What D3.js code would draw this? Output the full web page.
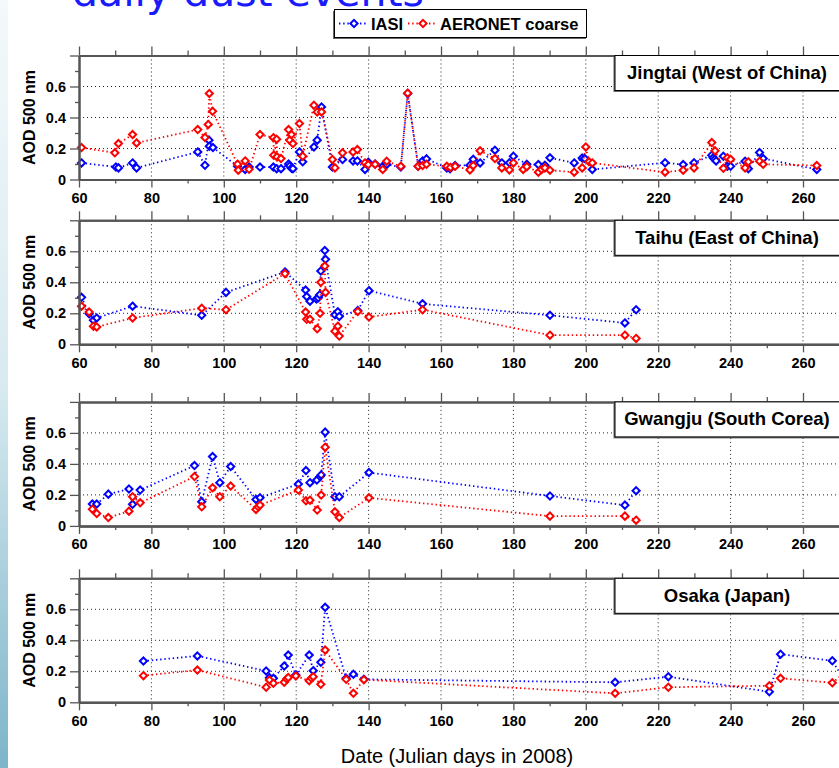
<!DOCTYPE html>
<html><head><meta charset="utf-8">
<script src="https://cdn.jsdelivr.net/npm/d3@7"></script>
<style>
html,body{margin:0;padding:0;background:#fff;}
svg{display:block;font-family:"Liberation Sans",Arial,sans-serif;}
</style>
</head><body>
<svg id="chart" width="839" height="768"></svg>
<script>
// ---------------- DATA ----------------
const stationNames = ["Jingtai (West of China)", "Taihu (East of China)", "Gwangju (South Corea)", "Osaka (Japan)"];
const seriesNames = ["IASI", "AERONET coarse"];
const xTickLabels = [60, 80, 100, 120, 140, 160, 180, 200, 220, 240, 260];
const yTickLabels = [0, 0.2, 0.4, 0.6];

const jingtaiIasiDay = [60.7,70.2,70.9,74.8,75.9,92.8,94.8,95.9,96.0,97.0,103.8,105.9,107.0,110.0,113.7,114.6,115.8,117.9,118.2,118.7,119.1,120.9,121.8,124.9,125.8,127.0,130.0,132.8,135.7,136.9,139.0,139.9,141.8,143.9,145.0,148.9,150.8,153.7,154.9,156.0,161.6,162.5,163.9,168.0,168.9,170.8,174.9,176.8,178.9,180.0,183.7,186.9,188.7,190.1,196.8,199.0,199.7,201.8,221.9,226.9,229.9,234.8,235.2,235.6,236.0,238.0,239.1,240.0,244.0,244.9,248.0,249.0,263.8];
const jingtaiIasiAod = [0.107,0.081,0.075,0.107,0.075,0.178,0.092,0.254,0.215,0.206,0.086,0.065,0.08,0.08,0.08,0.07,0.07,0.10,0.087,0.072,0.07,0.178,0.114,0.21,0.254,0.468,0.08,0.129,0.12,0.12,0.065,0.112,0.10,0.085,0.097,0.08,0.555,0.085,0.12,0.133,0.075,0.07,0.09,0.092,0.13,0.107,0.189,0.107,0.108,0.15,0.098,0.096,0.092,0.14,0.107,0.138,0.135,0.065,0.108,0.096,0.108,0.157,0.14,0.13,0.12,0.15,0.085,0.085,0.118,0.07,0.174,0.135,0.065];
const jingtaiAeronetDay = [60.7,69.9,70.9,74.8,75.9,92.8,94.8,95.7,96.0,96.9,103.8,104.0,105.9,107.0,110.0,113.7,113.8,114.6,114.7,115.8,117.9,118.2,118.7,119.1,120.9,121.8,124.9,125.8,127.0,130.0,130.7,132.8,135.7,136.9,139.0,139.9,141.8,143.9,145.0,148.9,150.8,153.7,154.9,156.0,161.6,162.6,163.9,168.0,168.9,170.8,174.9,176.8,178.9,180.0,182.7,183.7,186.9,187.8,188.7,190.1,196.8,199.0,200.0,200.9,201.8,221.9,226.9,229.9,234.8,235.7,238.0,239.1,240.0,244.0,244.9,248.0,249.0,263.8];
const jingtaiAeronetAod = [0.206,0.172,0.232,0.29,0.236,0.322,0.271,0.355,0.555,0.44,0.099,0.06,0.12,0.066,0.29,0.27,0.157,0.26,0.146,0.135,0.322,0.254,0.29,0.232,0.361,0.15,0.479,0.436,0.436,0.129,0.075,0.172,0.178,0.193,0.107,0.096,0.098,0.065,0.118,0.085,0.557,0.085,0.09,0.098,0.085,0.078,0.085,0.062,0.09,0.185,0.135,0.075,0.062,0.107,0.065,0.083,0.047,0.065,0.075,0.06,0.047,0.075,0.21,0.114,0.107,0.047,0.06,0.075,0.238,0.185,0.072,0.14,0.13,0.075,0.114,0.118,0.098,0.09];

const taihuIasiDay = [60.7,62.8,64.0,64.9,74.8,93.9,100.6,116.9,122.6,122.9,123.8,125.6,126.1,126.5,126.8,127.9,128.1,130.7,131.5,131.9,137.0,140.1,154.9,190.1,210.8,213.9];
const taihuIasiAod = [0.303,0.197,0.155,0.17,0.246,0.187,0.335,0.467,0.35,0.308,0.278,0.293,0.30,0.32,0.473,0.605,0.548,0.19,0.21,0.18,0.218,0.346,0.261,0.187,0.138,0.223];
const taihuAeronetDay = [60.7,62.8,64.0,64.9,74.8,93.9,100.6,116.9,122.6,122.9,123.8,125.8,126.6,126.8,127.9,128.1,130.7,131.5,131.9,137.0,140.1,154.9,190.1,210.8,213.9];
const taihuAeronetAod = [0.246,0.208,0.117,0.112,0.17,0.233,0.223,0.456,0.208,0.161,0.161,0.10,0.20,0.40,0.505,0.335,0.085,0.117,0.053,0.212,0.176,0.223,0.059,0.059,0.038];

const gwangjuIasiDay = [63.7,64.9,68.1,73.8,74.8,76.9,91.9,93.9,96.9,98.9,101.9,108.9,110.0,120.6,122.7,123.8,125.7,126.6,126.9,128.0,130.7,131.9,140.1,190.1,210.8,213.9];
const gwangjuIasiAod = [0.141,0.141,0.205,0.238,0.139,0.231,0.389,0.156,0.447,0.279,0.383,0.171,0.182,0.27,0.357,0.279,0.296,0.318,0.329,0.605,0.188,0.188,0.344,0.193,0.134,0.227];
const gwangjuAeronetDay = [63.7,64.9,68.1,73.8,74.8,76.9,91.9,93.9,96.9,98.9,101.9,108.9,109.5,110.0,120.6,122.7,123.8,125.8,126.9,128.0,130.7,131.9,140.1,190.1,210.8,213.9];
const gwangjuAeronetAod = [0.108,0.08,0.054,0.095,0.188,0.149,0.318,0.123,0.246,0.188,0.257,0.106,0.123,0.134,0.231,0.162,0.166,0.102,0.199,0.508,0.091,0.054,0.181,0.063,0.063,0.037];

const osakaIasiDay = [77.8,92.7,111.7,112.6,113.7,116.7,117.8,119.9,123.6,124.7,126.8,128.0,133.8,135.8,138.7,208.1,222.8,250.7,253.8,268.1,271.5];
const osakaIasiAod = [0.266,0.299,0.202,0.159,0.155,0.234,0.305,0.176,0.305,0.204,0.258,0.613,0.155,0.181,0.148,0.129,0.165,0.068,0.31,0.268,0.14];
const osakaAeronetDay = [77.8,92.7,111.7,112.6,113.7,116.7,117.4,117.8,119.9,123.6,124.2,124.7,126.8,128.0,133.8,135.8,138.7,208.1,222.8,250.7,253.8,268.1,271.5];
const osakaAeronetAod = [0.172,0.208,0.097,0.144,0.123,0.129,0.15,0.16,0.17,0.139,0.155,0.165,0.116,0.337,0.148,0.058,0.146,0.058,0.097,0.107,0.155,0.126,0.19];

// ---------------- DRAWING ----------------
const svg = d3.select("#chart");
const W = 839;
const blue = "#0000ff", red = "#ff0000";

const defs = svg.append("defs");
const grad = defs.append("linearGradient").attr("id","bg").attr("x1",0).attr("y1",0).attr("x2",0).attr("y2",1);
grad.append("stop").attr("offset","0%").attr("stop-color","#f4f9fb");
grad.append("stop").attr("offset","50%").attr("stop-color","#d8eaf0");
grad.append("stop").attr("offset","100%").attr("stop-color","#7db5c9");
svg.append("rect").attr("x",0).attr("y",0).attr("width",8).attr("height",768).attr("fill","url(#bg)");

// title (cut off at top as in the slide)
svg.append("text").attr("x",72).attr("y",6)
  .attr("font-family","'DejaVu Sans',Verdana,sans-serif").attr("font-size",41)
  .attr("fill","#1a1aff").text("daily dust events");

const panels = [
  {name: stationNames[0], top: 55.5, iasi: [jingtaiIasiDay, jingtaiIasiAod], aer: [jingtaiAeronetDay, jingtaiAeronetAod]},
  {name: stationNames[1], top: 220.3, iasi: [taihuIasiDay, taihuIasiAod], aer: [taihuAeronetDay, taihuAeronetAod]},
  {name: stationNames[2], top: 401.9, iasi: [gwangjuIasiDay, gwangjuIasiAod], aer: [gwangjuAeronetDay, gwangjuAeronetAod]},
  {name: stationNames[3], top: 578.3, iasi: [osakaIasiDay, osakaIasiAod], aer: [osakaAeronetDay, osakaAeronetAod]}
];
const PH = 124;
const x = d3.scaleLinear().domain([60, 280]).range([79, 79 + 220 * 3.62]);
const R = 3.6;
const diamond = `M0,${-R}L${R},0L0,${R}L${-R},0Z`;

panels.forEach(p => {
  const g = svg.append("g");
  const y = d3.scaleLinear().domain([0, 0.8]).range([p.top + PH, p.top]);

  // grid
  const grid = g.append("g").attr("stroke","#222").attr("stroke-width",1).attr("stroke-dasharray","1,3");
  grid.selectAll("line.v").data(xTickLabels.slice(1)).join("line")
    .attr("x1", d => x(d)).attr("x2", d => x(d)).attr("y1", y(0.8)).attr("y2", y(0));
  grid.selectAll("line.h").data([0.2,0.4,0.6]).join("line")
    .attr("x1", x(60)).attr("x2", W).attr("y1", d => y(d)).attr("y2", d => y(d));

  // series
  [[p.iasi, blue], [p.aer, red]].forEach(([s, col]) => {
    const pts = s[0].map((d, i) => [d, s[1][i]]);
    g.append("path").datum(pts)
      .attr("fill","none").attr("stroke",col).attr("stroke-width",1.8)
      .attr("stroke-dasharray","1.4,2.8")
      .attr("d", d3.line().x(d => x(d[0])).y(d => y(d[1])));
    g.selectAll(null).data(pts).join("path")
      .attr("transform", d => `translate(${x(d[0])},${y(d[1])})`)
      .attr("d", diamond).attr("fill","#fff").attr("stroke",col).attr("stroke-width",2);
  });

  // axes
  const bottom = g.append("g").attr("transform",`translate(0,${y(0)})`)
    .call(d3.axisBottom(x).tickValues(xTickLabels).tickSize(8).tickPadding(5).tickSizeOuter(0));
  g.append("g").attr("transform",`translate(0,${y(0)})`)
    .call(d3.axisBottom(x).tickValues([280]).tickSize(8).tickFormat("").tickSizeOuter(0));
  g.append("g").attr("transform",`translate(0,${y(0)})`)
    .call(d3.axisBottom(x).tickValues(d3.range(70, 281, 20)).tickSize(4).tickFormat("").tickSizeOuter(0));
  g.append("g").attr("transform",`translate(0,${y(0.8)})`)
    .call(d3.axisTop(x).tickValues(d3.range(60, 281, 20)).tickSize(9).tickFormat("").tickSizeOuter(0));
  g.append("g").attr("transform",`translate(0,${y(0.8)})`)
    .call(d3.axisTop(x).tickValues(d3.range(70, 281, 20)).tickSize(5).tickFormat("").tickSizeOuter(0));
  const left = g.append("g").attr("transform",`translate(${x(60)},0)`)
    .call(d3.axisLeft(y).tickValues([...yTickLabels, 0.8]).tickSize(9).tickPadding(4).tickSizeOuter(0)
      .tickFormat(d => yTickLabels.includes(d) ? (d === 0 ? "0" : d.toFixed(1)) : ""));
  g.append("g").attr("transform",`translate(${x(60)},0)`)
    .call(d3.axisLeft(y).tickValues([0.1,0.3,0.5,0.7]).tickSize(4).tickFormat("").tickSizeOuter(0));
  g.selectAll(".domain").attr("stroke","#555").attr("stroke-width",2);
  g.selectAll(".tick line").attr("stroke","#555").attr("stroke-width",1.3);
  [bottom, left].forEach(a => a.selectAll("text").attr("fill","#000")
    .attr("font-family","'Liberation Sans',Arial,sans-serif").attr("font-weight","bold").attr("font-size","14.5px"));
  g.selectAll(".domain").raise();

  // y title
  g.append("text").attr("transform",`translate(35,${p.top + PH/2}) rotate(-90)`)
    .attr("text-anchor","middle").attr("font-weight","bold").attr("font-size",16).text("AOD 500 nm");

  // station label box
  const bx = 615, bw = 230, bh = 35;
  g.append("rect").attr("x",bx-1.5).attr("y",p.top+1.5).attr("width",bw).attr("height",bh).attr("fill","#666");
  g.append("rect").attr("x",bx).attr("y",p.top).attr("width",bw).attr("height",bh)
    .attr("fill","#fff").attr("stroke","#000").attr("stroke-width",1);
  g.append("text").attr("x",727).attr("y",p.top + 23.5).attr("text-anchor","middle")
    .attr("font-weight","bold").attr("font-size",18.5).text(p.name);
});

// legend
const lg = svg.append("g");
lg.append("rect").attr("x",333).attr("y",11).attr("width",253).attr("height",28).attr("fill","#666");
lg.append("rect").attr("x",334.5).attr("y",9.5).attr("width",252).attr("height",28)
  .attr("fill","#fff").attr("stroke","#000").attr("stroke-width",1);
[[339, 368, 354, 371, blue, seriesNames[0]], [408, 437, 423, 440, red, seriesNames[1]]].forEach(([x1, x2, xm, xt, col, label]) => {
  lg.append("line").attr("x1",x1).attr("x2",x2).attr("y1",23.5).attr("y2",23.5)
    .attr("stroke",col).attr("stroke-width",1.8).attr("stroke-dasharray","1.4,2.8");
  lg.append("path").attr("transform",`translate(${xm},23.5)`).attr("d",diamond)
    .attr("fill","#fff").attr("stroke",col).attr("stroke-width",2);
  lg.append("text").attr("x",xt).attr("y",29.5).attr("font-weight","bold").attr("font-size",16.5).text(label);
});

// x axis title
svg.append("text").attr("x",457).attr("y",763).attr("text-anchor","middle")
  .attr("font-size",20).text("Date (Julian days in 2008)");
</script>
</body></html>
